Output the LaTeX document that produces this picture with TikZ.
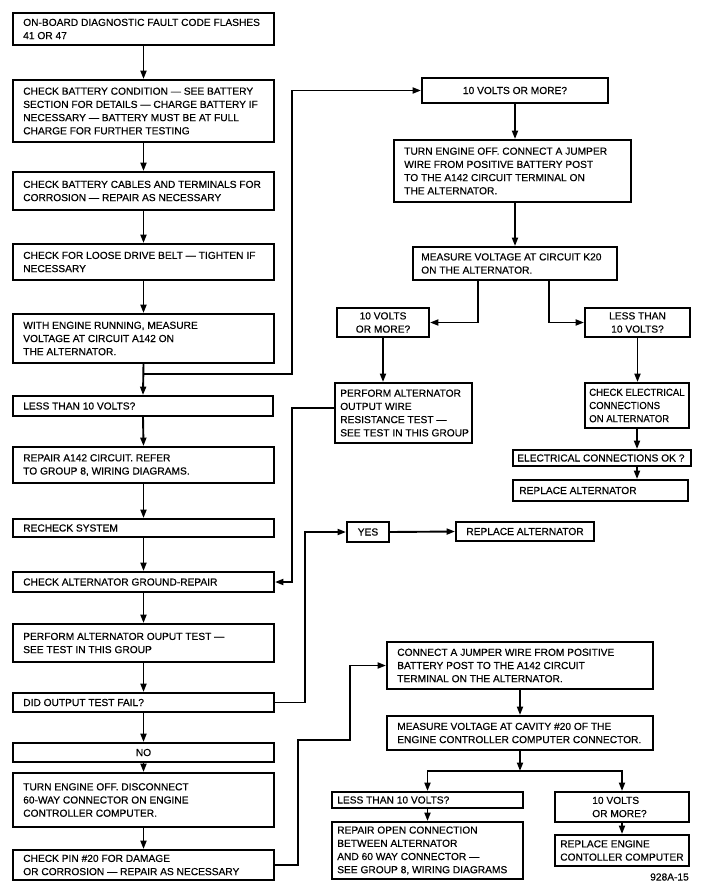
\documentclass[tikz,border=0pt]{standalone}
\usepackage{fontspec}
\setmainfont[FakeBold=0.4]{Liberation Sans}
\newfontfamily\narrowfont[FakeBold=0.4,FakeStretch=0.94]{Liberation Sans}
\usetikzlibrary{arrows.meta}
\newcommand\bx[5]{\node[box,minimum width={#4-#2},minimum height={#5-#3}] (#1) at ({(#2+#4)/2},{(#3+#5)/2}) {};}
\newcommand\tl[3]{\node[lbl,anchor=west] (#1t) at ([xshift=#2pt]#1.west) {#3};}
\newcommand\tc[2]{\node[clbl] (#1t) at (#1.center) {#2};}
\begin{document}
\begin{tikzpicture}[x=1pt,y=-1pt,
 box/.style={draw,line width=1.9pt,inner sep=0pt},
 lbl/.style={inner sep=0pt,align=left,font=\fontsize{10.2}{13.2}\selectfont},
 clbl/.style={lbl,align=center},
 arr/.style={line width=1.9pt,-{Triangle[length=8.5pt,width=6pt]}}]
\useasboundingbox[fill=white] (0,0) rectangle (701,888);
% left column
\bx{L1}{13}{13}{274}{45}
\bx{L2}{13}{80}{274}{142}
\bx{L3}{13}{172}{274}{210}
\bx{L4}{13}{244}{274}{280}
\bx{L5}{13}{314}{274}{363}
\bx{L6}{13}{396}{273}{416}
\bx{L7}{13}{447}{274}{483}
\bx{L8}{13}{519}{274}{537}
\bx{L9}{13}{572}{274}{592}
\bx{L10}{13}{624}{274}{662}
\bx{L11}{13}{693}{274}{712}
\bx{L12}{13}{743}{274}{762}
\bx{L13}{13}{773}{274}{827}
\bx{L14}{13}{850}{274}{880}
\tl{L1}{11}{ON-BOARD DIAGNOSTIC FAULT CODE FLASHES\\41 OR 47}
\tl{L2}{11}{CHECK BATTERY CONDITION — SEE BATTERY\\SECTION FOR DETAILS — CHARGE BATTERY IF\\NECESSARY — BATTERY MUST BE AT FULL\\CHARGE FOR FURTHER TESTING}
\tl{L3}{11}{CHECK BATTERY CABLES AND TERMINALS FOR\\CORROSION — REPAIR AS NECESSARY}
\tl{L4}{11}{CHECK FOR LOOSE DRIVE BELT — TIGHTEN IF\\NECESSARY}
\tl{L5}{11}{WITH ENGINE RUNNING, MEASURE\\VOLTAGE AT CIRCUIT A142 ON\\THE ALTERNATOR.}
\tl{L6}{11}{LESS THAN 10 VOLTS?}
\tl{L7}{11}{REPAIR A142 CIRCUIT. REFER\\TO GROUP 8, WIRING DIAGRAMS.}
\tl{L8}{11}{RECHECK SYSTEM}
\tl{L9}{11}{CHECK ALTERNATOR GROUND-REPAIR}
\tl{L10}{11}{PERFORM ALTERNATOR OUPUT TEST —\\SEE TEST IN THIS GROUP}
\tl{L11}{11}{DID OUTPUT TEST FAIL?}
\tc{L12}{NO}
\tl{L13}{11}{TURN ENGINE OFF. DISCONNECT\\60-WAY CONNECTOR ON ENGINE\\CONTROLLER COMPUTER.}
\tl{L14}{11}{CHECK PIN \#20 FOR DAMAGE\\OR CORROSION — REPAIR AS NECESSARY}
% right upper
\bx{R1}{422}{78}{608}{103}
\bx{R2}{394}{140}{631}{202}
\bx{R3}{413}{247}{617}{280}
\bx{R4}{337}{308}{429}{337}
\bx{R5}{585}{308}{690}{337}
\bx{R6}{335}{383}{472}{443}
\bx{R7}{585}{383}{689}{428}
\bx{R8}{513}{450}{691}{466}
\bx{R9}{513}{480}{688}{501}
\bx{YES}{347}{522}{389}{542}
\bx{RA}{456}{522}{594}{541}
\tc{R1}{10 VOLTS OR MORE?}
\tl{R2}{11}{TURN ENGINE OFF. CONNECT A JUMPER\\WIRE FROM POSITIVE BATTERY POST\\TO THE A142 CIRCUIT TERMINAL ON\\THE ALTERNATOR.}
\tl{R3}{9}{MEASURE VOLTAGE AT CIRCUIT K20\\ON THE ALTERNATOR.}
\tc{R4}{10 VOLTS\\OR MORE?}
\tc{R5}{LESS THAN\\10 VOLTS?}
\tl{R6}{6}{PERFORM ALTERNATOR\\OUTPUT WIRE\\RESISTANCE TEST —\\SEE TEST IN THIS GROUP}
\tl{R7}{5}{\narrowfont CHECK ELECTRICAL\\\narrowfont CONNECTIONS\\\narrowfont ON ALTERNATOR}
\tl{R8}{5}{ELECTRICAL CONNECTIONS OK ?}
\tl{R9}{7}{REPLACE ALTERNATOR}
\tc{YES}{YES}
\tc{RA}{REPLACE ALTERNATOR}
% right lower
\bx{B1}{387}{642}{653}{689}
\bx{B2}{387}{716}{653}{750}
\bx{B3}{332}{792}{523}{808}
\bx{B4}{555}{792}{689}{822}
\bx{B5}{332}{822}{523}{879}
\bx{B6}{555}{835}{689}{866}
\tl{B1}{11}{CONNECT A JUMPER WIRE FROM POSITIVE\\BATTERY POST TO THE A142 CIRCUIT\\TERMINAL ON THE ALTERNATOR.}
\tl{B2}{11}{MEASURE VOLTAGE AT CAVITY \#20 OF THE\\ENGINE CONTROLLER COMPUTER CONNECTOR.}
\tl{B3}{6}{LESS THAN 10 VOLTS?}
\tl{B4}{38}{10 VOLTS\\OR MORE?}
\tl{B5}{6}{REPAIR OPEN CONNECTION\\BETWEEN ALTERNATOR\\AND 60 WAY CONNECTOR —\\SEE GROUP 8, WIRING DIAGRAMS}
\tl{B6}{6}{REPLACE ENGINE\\CONTOLLER COMPUTER}
\node[lbl,anchor=east] (fig) at (689,877) {928A-15};
% connectors
\foreach \a/\b in {L1/L2,L2/L3,L3/L4,L4/L5,L5/L6,L6/L7,L7/L8,L8/L9,L9/L10,L10/L11,L11/L12,L12/L13,L13/L14}
  \draw[arr] (\a.south) -- (\b.north);
\coordinate (j1) at (143.5,374);
\coordinate (c1) at (292,374);
\draw[arr] (j1) -- (c1) |- (R1.west);
\draw[arr] (R1.south) -- (R1.south |- R2.north);
\draw[arr] (R2.south -| R1.south) -- (R1.south |- R3.north);
\draw[arr] ([xshift=-37pt]R3.south) |- (R4.east);
\draw[arr] ([xshift=34pt]R3.south) |- (R5.west);
\draw[arr] (R4.south) -- (R4.south |- R6.north);
\draw[arr] (R5.south) -- (R5.south |- R7.north);
\draw[arr] (R7.south) -- (R7.south |- R8.north);
\draw[arr] (R8.south -| R7.south) -- (R7.south |- R9.north);
\coordinate (c2) at (292,408);
\draw[arr] (R6.west |- c2) -- (c2) |- (L9.east);
\coordinate (c3) at (305,532);
\draw[arr] (L11.east) -| (c3) -- (YES.west);
\draw[arr] (YES.east) -- (RA.west);
\coordinate (c4) at (298,740);
\coordinate (c5) at (350,740);
\draw[arr] (L14.east) -| (c4) -- (c5) |- (B1.west);
\draw[arr] (B1.south) -- (B2.north);
\coordinate (j2) at (520,771);
\draw[arr] (B2.south) -- (j2);
\draw[arr] (j2) -| (B3.north);
\draw[arr] (j2) -| (B4.north);
\draw[arr] (B3.south) -- (B5.north);
\draw[arr] (B4.south) -- (B6.north);
\end{tikzpicture}
\end{document}
